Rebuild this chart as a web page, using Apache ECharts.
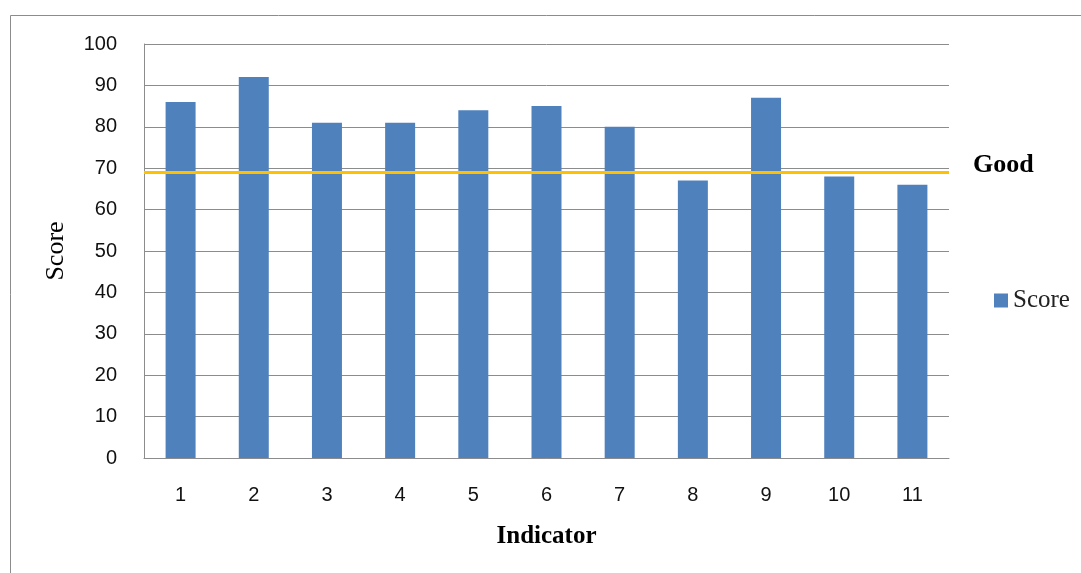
<!DOCTYPE html>
<html>
<head>
<meta charset="utf-8">
<script src="https://cdn.jsdelivr.net/npm/echarts@6/dist/echarts.min.js"></script>
<style>
  html, body { margin: 0; padding: 0; background: #fff; }
  #chart { width: 1081px; height: 573px; }
</style>
</head>
<body>
<div id="chart"></div>
<script>
// Indicator scores with a "Good" threshold line
const categories = ['1', '2', '3', '4', '5', '6', '7', '8', '9', '10', '11'];
const scores = [86, 92, 81, 81, 84, 85, 80, 67, 87, 68, 66];
const goodThreshold = 69;
const yTicks = { min: 0, max: 100, interval: 10 };

const chart = echarts.init(document.getElementById('chart'), null, { renderer: 'canvas' });

const sansFont = '"Liberation Sans", "DejaVu Sans", sans-serif';
const serifFont = '"Liberation Serif", "DejaVu Serif", serif';

chart.setOption({
  animation: false,
  backgroundColor: '#ffffff',
  grid: { left: 144, right: 132, top: 44, bottom: 115, containLabel: false },
  graphic: [
    {
      type: 'rect',
      shape: { x: 10.5, y: 15.5, width: 1090, height: 580 },
      style: { fill: 'none', stroke: '#8c8c8c', lineWidth: 1 },
      silent: true
    },
    {
      type: 'text',
      left: 973, top: 152,
      style: { text: 'Good', font: 'bold 26px ' + serifFont, fill: '#000' }
    }
  ],
  legend: {
    data: ['Score'],
    orient: 'vertical',
    left: 989, top: 283,
    itemWidth: 14, itemHeight: 14, itemGap: 6,
    icon: 'rect',
    textStyle: { fontFamily: serifFont, fontSize: 25, color: '#222' }
  },
  xAxis: {
    type: 'category',
    data: categories,
    name: 'Indicator',
    nameLocation: 'middle',
    nameGap: 66,
    nameTextStyle: { fontFamily: serifFont, fontWeight: 'bold', fontSize: 25, color: '#000' },
    axisLine: { lineStyle: { color: '#8c8c8c', width: 1 } },
    axisTick: { show: false },
    axisLabel: { margin: 27, fontFamily: sansFont, fontSize: 20, color: '#111' }
  },
  yAxis: {
    type: 'value',
    min: yTicks.min, max: yTicks.max, interval: yTicks.interval,
    name: 'Score',
    nameLocation: 'middle',
    nameGap: 75,
    nameRotate: 90,
    nameTextStyle: { fontFamily: serifFont, fontSize: 26, color: '#000' },
    axisLine: { show: true, lineStyle: { color: '#8c8c8c', width: 1 } },
    axisTick: { show: false },
    axisLabel: { margin: 27, fontFamily: sansFont, fontSize: 20, color: '#111' },
    splitLine: { lineStyle: { color: '#8c8c8c', width: 1 } }
  },
  series: [
    {
      name: 'Score',
      type: 'bar',
      data: scores,
      barWidth: 30,
      itemStyle: { color: '#4f81bd' },
      markLine: {
        silent: true,
        symbol: 'none',
        label: { show: false },
        lineStyle: { color: '#ffc000', width: 3, type: 'solid' },
        data: [{ yAxis: goodThreshold }]
      }
    }
  ]
});
</script>
</body>
</html>
